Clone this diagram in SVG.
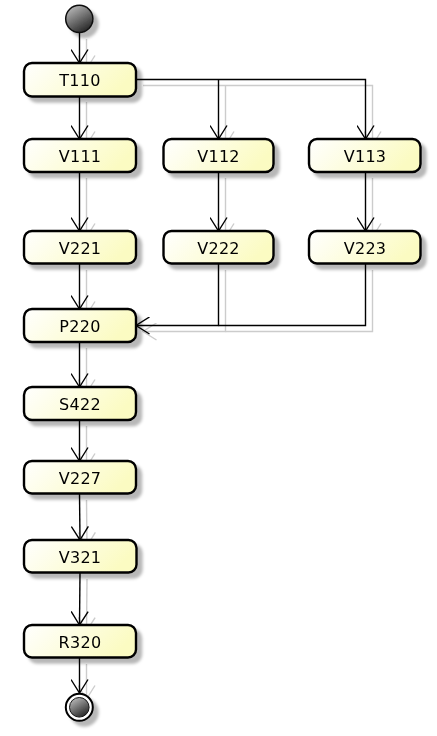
<svg xmlns="http://www.w3.org/2000/svg" width="437" height="736" viewBox="0 0 437 736">
<style>
.box{fill:url(#bg);stroke:#000;stroke-width:2.4}
.lbl{font-family:"DejaVu Sans",Verdana,sans-serif;font-size:16px;letter-spacing:0.3px;fill:#000;text-anchor:middle}
.ln{fill:none;stroke:#000;stroke-width:1.4}
</style>
<defs>
<linearGradient id="bg" x1="0" y1="0" x2="1" y2="0.3">
<stop offset="0" stop-color="#FFFFFF"/>
<stop offset="1" stop-color="#FBFBC2"/>
</linearGradient>
<linearGradient id="dot" x1="0.2" y1="0" x2="0.8" y2="1">
<stop offset="0" stop-color="#BDBDBD"/>
<stop offset="1" stop-color="#1E1E1E"/>
</linearGradient>
<filter id="sh" filterUnits="userSpaceOnUse" x="0" y="0" width="437" height="736">
<feGaussianBlur in="SourceAlpha" stdDeviation="1.6"/>
<feOffset dx="5" dy="5" result="b"/>
<feFlood flood-color="#000" flood-opacity="0.28"/>
<feComposite in2="b" operator="in"/>
<feMerge><feMergeNode/><feMergeNode in="SourceGraphic"/></feMerge>
</filter>
<filter id="lsh" filterUnits="userSpaceOnUse" x="0" y="0" width="437" height="736">
<feGaussianBlur in="SourceAlpha" stdDeviation="0.6"/>
<feOffset dx="7" dy="6" result="b"/>
<feFlood flood-color="#000" flood-opacity="0.2"/>
<feComposite in2="b" operator="in"/>
<feMerge><feMergeNode/><feMergeNode in="SourceGraphic"/></feMerge>
</filter>
<marker id="ah" viewBox="0 0 15 18" refX="14" refY="9" markerWidth="15" markerHeight="18" markerUnits="userSpaceOnUse" orient="auto">
<path d="M0.5,0.5 L14,9 L0.5,17.5" fill="none" stroke="#000" stroke-width="1.4"/>
</marker>
</defs>
<g id="connectors" filter="url(#lsh)">
<path class="ln" d="M79.5,33 V63" marker-end="url(#ah)"/>
<path class="ln" d="M79.5,96 V139" marker-end="url(#ah)"/>
<path class="ln" d="M136,79.5 H365.5 V139" marker-end="url(#ah)"/>
<path class="ln" d="M218.5,79.5 V139" marker-end="url(#ah)"/>
<path class="ln" d="M79.5,172 V231" marker-end="url(#ah)"/>
<path class="ln" d="M218.5,172 V231" marker-end="url(#ah)"/>
<path class="ln" d="M365.5,172 V231" marker-end="url(#ah)"/>
<path class="ln" d="M79.5,264 V309" marker-end="url(#ah)"/>
<path class="ln" d="M218.5,264 V325.5 H136" marker-end="url(#ah)"/>
<path class="ln" d="M365.5,264 V325.5 H218.5"/>
<path class="ln" d="M79.5,342 V387" marker-end="url(#ah)"/>
<path class="ln" d="M79.5,420 V461" marker-end="url(#ah)"/>
<path class="ln" d="M79.5,494 L80,540" marker-end="url(#ah)"/>
<path class="ln" d="M80,573 L79.5,625" marker-end="url(#ah)"/>
<path class="ln" d="M79.5,658 V693" marker-end="url(#ah)"/>
</g>
<g id="start" filter="url(#sh)">
<circle cx="79.3" cy="18.8" r="13.6" fill="url(#dot)" stroke="#111" stroke-width="1.5"/>
</g>
<g id="T110" filter="url(#sh)"><rect class="box" x="24" y="63" width="112" height="33.5" rx="8"/><text class="lbl" x="80" y="85.5">T110</text></g>
<g id="V111" filter="url(#sh)"><rect class="box" x="24" y="139" width="112" height="33" rx="8"/><text class="lbl" x="80" y="161.5">V111</text></g>
<g id="V112" filter="url(#sh)"><rect class="box" x="163.5" y="139" width="110" height="33" rx="8"/><text class="lbl" x="218.5" y="161.5">V112</text></g>
<g id="V113" filter="url(#sh)"><rect class="box" x="309" y="139" width="111.5" height="33" rx="8"/><text class="lbl" x="365" y="161.5">V113</text></g>
<g id="V221" filter="url(#sh)"><rect class="box" x="24" y="231" width="112" height="32.5" rx="8"/><text class="lbl" x="80" y="253.5">V221</text></g>
<g id="V222" filter="url(#sh)"><rect class="box" x="163.5" y="231" width="110" height="32.5" rx="8"/><text class="lbl" x="218.5" y="253.5">V222</text></g>
<g id="V223" filter="url(#sh)"><rect class="box" x="309" y="231" width="111.5" height="32.5" rx="8"/><text class="lbl" x="365" y="253.5">V223</text></g>
<g id="P220" filter="url(#sh)"><rect class="box" x="24" y="309" width="112" height="33" rx="8"/><text class="lbl" x="80" y="331.5">P220</text></g>
<g id="S422" filter="url(#sh)"><rect class="box" x="24" y="387" width="112" height="33" rx="8"/><text class="lbl" x="80" y="409.5">S422</text></g>
<g id="V227" filter="url(#sh)"><rect class="box" x="24" y="461" width="112" height="32.5" rx="8"/><text class="lbl" x="80" y="483.5">V227</text></g>
<g id="V321" filter="url(#sh)"><rect class="box" x="24" y="540" width="112.5" height="32.5" rx="8"/><text class="lbl" x="80" y="562.5">V321</text></g>
<g id="R320" filter="url(#sh)"><rect class="box" x="24" y="625" width="112" height="32.5" rx="8"/><text class="lbl" x="80" y="647.5">R320</text></g>
<g id="end" filter="url(#sh)">
<circle cx="79.3" cy="707.3" r="13.5" fill="#fff" stroke="#000" stroke-width="2"/>
<circle cx="79.3" cy="707.3" r="9.8" fill="url(#dot)" stroke="#111" stroke-width="1"/>
</g>
</svg>
